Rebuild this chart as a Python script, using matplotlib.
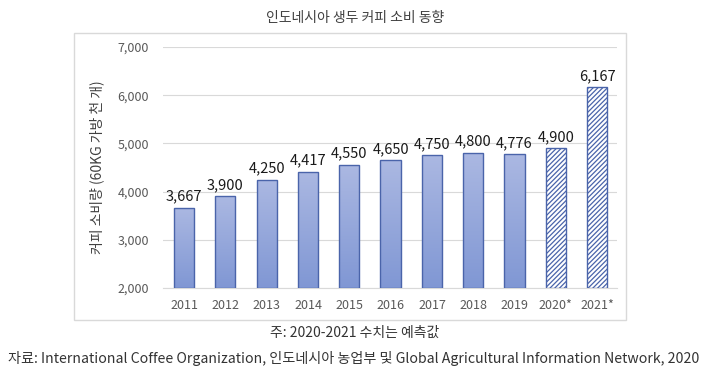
import matplotlib
matplotlib.use("Agg")
import matplotlib.pyplot as plt
import numpy as np
from matplotlib.patches import Rectangle
from matplotlib.colors import LinearSegmentedColormap

plt.rcParams['font.family'] = ['Noto Sans CJK KR', 'DejaVu Sans']

years = ['2011', '2012', '2013', '2014', '2015', '2016', '2017', '2018', '2019', '2020*', '2021*']
values = [3667, 3900, 4250, 4417, 4550, 4650, 4750, 4800, 4776, 4900, 6167]
forecast = [False] * 9 + [True, True]
yticks = [2000, 3000, 4000, 5000, 6000, 7000]

fig = plt.figure(figsize=(7.06, 3.79), dpi=100)
ax = fig.add_axes([163/706, 1-288/379, 454/706, 241/379])

cmap = LinearSegmentedColormap.from_list('g', ['#8097d4', '#abb8e2'])
grad = np.linspace(0, 1, 256).reshape(-1, 1)
edge = '#4a64aa'
x = np.arange(len(years))
w = 0.49
plt.rcParams['hatch.color'] = '#3d5ea8'
plt.rcParams['hatch.linewidth'] = 0.9
for xi, v, fc in zip(x, values, forecast):
    if fc:
        ax.bar(xi, v - 2000, bottom=2000, width=w, facecolor='white', edgecolor=edge,
               hatch='///////', linewidth=1.0, zorder=3)
    else:
        b = ax.bar(xi, v - 2000, bottom=2000, width=w, facecolor='none', edgecolor=edge,
                   linewidth=1.0, zorder=4)[0]
        im = ax.imshow(grad, cmap=cmap, aspect='auto', origin='lower',
                       extent=[xi - w/2, xi + w/2, 2000, v], zorder=3)
        im.set_clip_path(b)
    ax.text(xi, v + 90, f'{v:,}', ha='center', va='bottom', fontsize=10.5,
            color='#1a1a1a', zorder=5)

ax.set_xlim(-0.51, 10.48)
ax.set_ylim(2000, 7000)
ax.set_yticks(yticks)
ax.set_yticklabels([f'{t:,}' for t in yticks])
ax.set_xticks(x)
ax.set_xticklabels(years)
ax.tick_params(axis='both', length=0, labelsize=9, colors='#595959')
ax.tick_params(axis='y', pad=10)
ax.tick_params(axis='x', pad=8)
ax.yaxis.grid(True, color='#d9d9d9', linewidth=0.8, zorder=0)
ax.set_axisbelow(True)
for s in ['top', 'right', 'left']:
    ax.spines[s].set_visible(False)
ax.spines['bottom'].set_color('#d9d9d9')
ax.set_ylabel('커피 소비량 (60KG 가방 천 개)', fontsize=10, color='#404040', labelpad=10)

fig.patches.append(Rectangle((74/706, 1-320/379), 552/706, 287/379, transform=fig.transFigure,
                             fill=False, edgecolor='#d9d9d9', linewidth=1))
fig.text(355/706, 1-18/379, '인도네시아 생두 커피 소비 동향', ha='center', va='center',
         fontsize=10, color='#404040')
fig.text(355/706, 1-333/379, '주: 2020-2021 수치는 예측값', ha='center', va='center',
         fontsize=10, color='#333333')
fig.text(354/706, 1-359/379,
         '자료: International Coffee Organization, 인도네시아 농업부 및 Global Agricultural Information Network, 2020',
         ha='center', va='center', fontsize=10.2, color='#333333')

fig.savefig('out.png', dpi=100)
